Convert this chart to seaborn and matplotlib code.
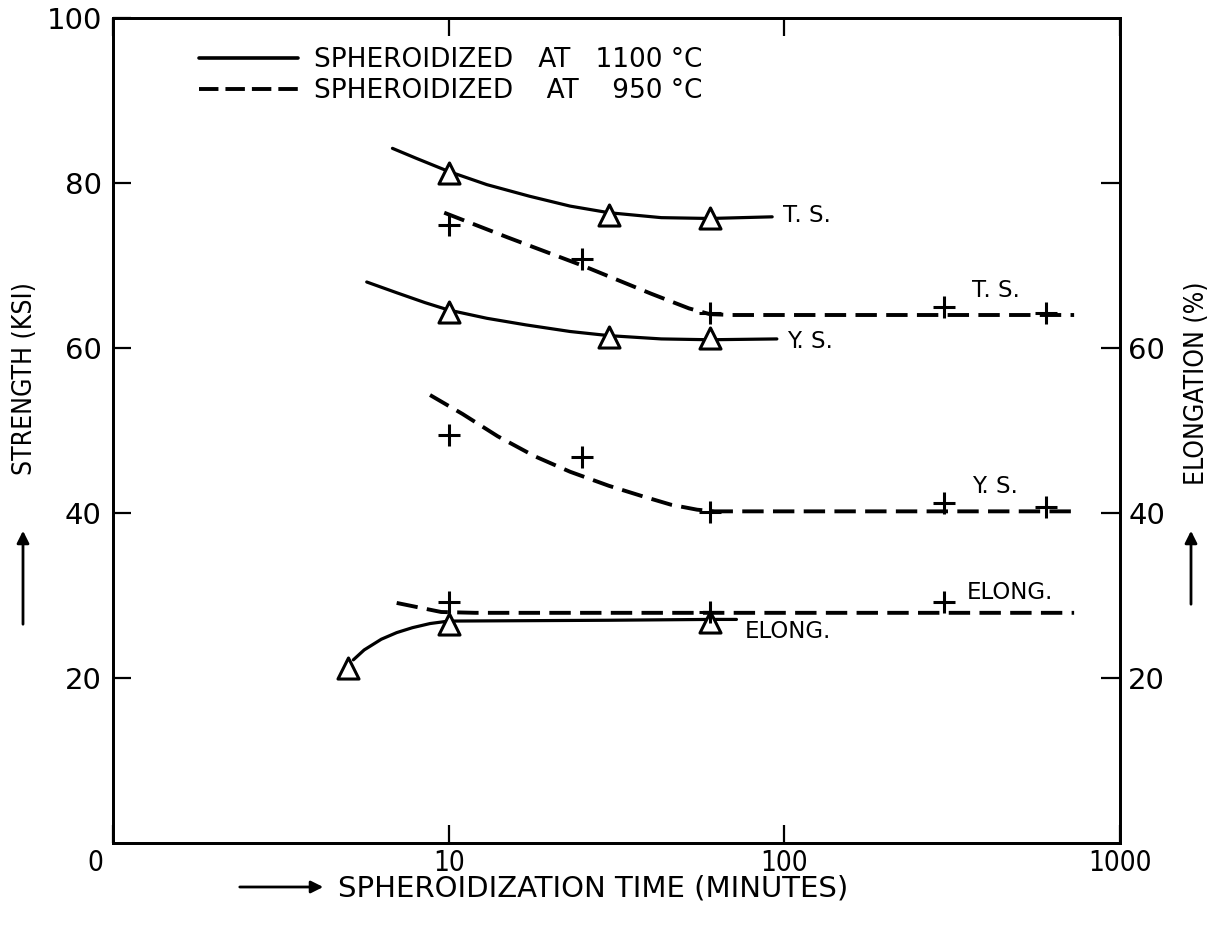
import matplotlib
matplotlib.use("Agg")
import matplotlib.pyplot as plt
import seaborn as sns
import numpy as np
from matplotlib.lines import Line2D
from matplotlib.ticker import NullLocator
from matplotlib.transforms import ScaledTranslation

# ---------------- data ----------------
# Spheroidized at 1100 C  (solid curves, triangle markers)
ts1100_curve_t = [6.8, 8.0, 10, 13, 17.4, 23, 30, 43, 60, 92]
ts1100_curve_v = [84.2, 83.0, 81.4, 79.8, 78.4, 77.2, 76.4, 75.8, 75.7, 75.9]
ts1100_pts_t = [10, 30, 60]
ts1100_pts_v = [81.2, 76.1, 75.8]

ys1100_curve_t = [5.7, 7.0, 8.5, 10, 13, 17, 23, 30, 43, 60, 95]
ys1100_curve_v = [68.0, 66.7, 65.5, 64.6, 63.6, 62.8, 62.0, 61.5, 61.1, 61.0, 61.1]
ys1100_pts_t = [10, 30, 60]
ys1100_pts_v = [64.4, 61.3, 61.2]

el1100_curve_t = [5.2, 5.6, 6.3, 7.0, 7.8, 8.8, 10, 30, 60, 72]
el1100_curve_v = [22.2, 23.4, 24.7, 25.5, 26.1, 26.6, 26.9, 27.0, 27.1, 27.1]
el1100_pts_t = [5, 10, 60]
el1100_pts_v = [21.2, 26.6, 26.8]

# Spheroidized at 950 C  (dashed curves, plus markers)
ts950_curve_t = [9.7, 15, 25, 40, 52, 60, 70, 730]
ts950_curve_v = [76.4, 73.4, 70.0, 66.6, 64.8, 64.1, 64.0, 64.0]
ts950_pts_t = [10, 25, 60, 300, 600]
ts950_pts_v = [74.9, 70.8, 64.2, 65.0, 64.2]

ys950_curve_t = [8.8, 11, 14, 18, 23, 30, 38, 46, 55, 62, 730]
ys950_curve_v = [54.3, 52.0, 49.3, 46.9, 45.0, 43.3, 42.0, 41.0, 40.4, 40.2, 40.2]
ys950_pts_t = [10, 25, 60, 300, 600]
ys950_pts_v = [49.5, 46.8, 40.1, 41.2, 40.7]

el950_curve_t = [7.0, 9.5, 12, 730]
el950_curve_v = [29.1, 28.0, 27.9, 27.9]
el950_pts_t = [10, 60, 300]
el950_pts_v = [29.2, 28.0, 29.2]

x_ticks = [1, 10, 100, 1000]
x_ticklabels = ["0", "10", "100", "1000"]
yl_ticks = [20, 40, 60, 80, 100]
yl_ticklabels = ["20", "40", "60", "80", "100"]
yr_ticks = [20, 40, 60, 80]
yr_ticklabels = ["20", "40", "60", ""]

legend_labels = ["SPHEROIDIZED   AT   1100 °C", "SPHEROIDIZED    AT    950 °C"]

# curve annotations: (text, x, y)
annotations = [
    ("T. S.", 99, 76.1),
    ("Y. S.", 102, 60.8),
    ("T. S.", 363, 67.0),
    ("Y. S.", 363, 43.2),
    ("ELONG.", 350, 30.4),
    ("ELONG.", 76, 25.6),
]

# ---------------- style ----------------
sns.set_style("ticks")
plt.rcParams["font.family"] = ["DejaVu Sans"]
plt.rcParams["axes.linewidth"] = 2.0
plt.rcParams["text.color"] = "black"
plt.rcParams["axes.edgecolor"] = "black"
plt.rcParams["xtick.color"] = "black"
plt.rcParams["ytick.color"] = "black"
plt.rcParams["xtick.labelcolor"] = "black"
plt.rcParams["ytick.labelcolor"] = "black"

fig = plt.figure(figsize=(12.21, 9.30), dpi=100)
W, H = 1221, 930
ax = fig.add_axes([113 / W, (H - 843) / H, (1120 - 113) / W, (843 - 18) / H])

solid_kw = dict(color="black", lw=2.3, sort=False, estimator=None)
dash_kw = dict(color="black", lw=2.8, sort=False, estimator=None,
               linestyle=(0, (5.5, 2.4)))

for t, v in [(ts1100_curve_t, ts1100_curve_v), (ys1100_curve_t, ys1100_curve_v),
             (el1100_curve_t, el1100_curve_v)]:
    sns.lineplot(x=t, y=v, ax=ax, **solid_kw)
for t, v in [(ts950_curve_t, ts950_curve_v), (ys950_curve_t, ys950_curve_v),
             (el950_curve_t, el950_curve_v)]:
    sns.lineplot(x=t, y=v, ax=ax, **dash_kw)

for t, v in [(ts1100_pts_t, ts1100_pts_v), (ys1100_pts_t, ys1100_pts_v),
             (el1100_pts_t, el1100_pts_v)]:
    sns.scatterplot(x=t, y=v, ax=ax, marker="^", s=230, facecolor="white",
                    edgecolor="black", linewidth=2.2, zorder=5)
for t, v in [(ts950_pts_t, ts950_pts_v), (ys950_pts_t, ys950_pts_v),
             (el950_pts_t, el950_pts_v)]:
    sns.scatterplot(x=t, y=v, ax=ax, marker="+", s=230, color="black",
                    linewidth=2.2, zorder=5)

ax.set_xscale("log")
ax.set_xlim(1, 1000)
ax.set_ylim(0, 100)
ax.set_xticks(x_ticks)
ax.set_xticklabels(x_ticklabels)
ax.xaxis.set_minor_locator(NullLocator())
ax.set_yticks(yl_ticks)
ax.set_yticklabels(yl_ticklabels)
ax.tick_params(axis="x", which="major", direction="in", top=True, length=13,
               width=1.6, pad=4, labelsize=20)
ax.tick_params(axis="y", which="major", direction="in", length=13, width=1.6,
               pad=8, labelsize=21)
for lab in ax.get_xticklabels():
    lab.set_fontstretch("condensed")
first = ax.get_xticklabels()[0]
first.set_transform(first.get_transform() + ScaledTranslation(-18 / 100, 0, fig.dpi_scale_trans))
ax.set_xlabel("")
ax.set_ylabel("")

ax2 = ax.twinx()
ax2.set_ylim(0, 100)
ax2.set_yticks(yr_ticks)
ax2.set_yticklabels(yr_ticklabels)
ax2.tick_params(axis="y", direction="in", length=14, width=1.6, pad=6, labelsize=21)
for sp in ax2.spines.values():
    sp.set_linewidth(2.0)
    sp.set_color("black")

for txt, x, y in annotations:
    ax.text(x, y, txt, ha="left", va="center", fontsize=16.5, color="black")

# legend
handles = [Line2D([], [], color="black", lw=2.6),
           Line2D([], [], color="black", lw=2.8, linestyle=(0, (5.0, 1.8)))]
leg = ax.legend(handles, legend_labels, loc="upper left",
                bbox_to_anchor=((199 - 113) / 1007, 1 - (47 - 18) / 825),
                frameon=False, fontsize=19, handlelength=3.75, handletextpad=0.6,
                labelspacing=0.2, borderpad=0, borderaxespad=0)

# axis labels with arrows
fig.text(25 / W, 1 - 379 / H, "STRENGTH (KSI)", rotation=90, ha="center",
         va="center", fontsize=19, fontstretch="condensed")
ax.annotate("", xy=(23, H - 528), xytext=(23, H - 627), xycoords="figure pixels",
            textcoords="figure pixels",
            arrowprops=dict(arrowstyle="-|>", lw=2, color="black", mutation_scale=18))
fig.text(1197 / W, 1 - 383 / H, "ELONGATION (%)", rotation=90, ha="center",
         va="center", fontsize=19, fontstretch="condensed")
ax.annotate("", xy=(1191, H - 528), xytext=(1191, H - 607), xycoords="figure pixels",
            textcoords="figure pixels",
            arrowprops=dict(arrowstyle="-|>", lw=2, color="black", mutation_scale=18))
fig.text(338 / W, 1 - 888 / H, "SPHEROIDIZATION TIME (MINUTES)", ha="left",
         va="center", fontsize=21)
ax.annotate("", xy=(326, H - 887), xytext=(237, H - 887), xycoords="figure pixels",
            textcoords="figure pixels",
            arrowprops=dict(arrowstyle="-|>", lw=2, color="black", mutation_scale=18))

fig.savefig("out.png", dpi=100)
